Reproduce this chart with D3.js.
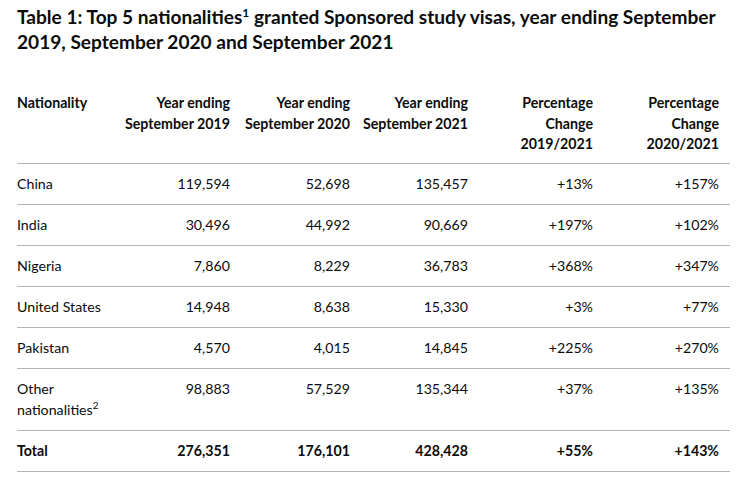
<!DOCTYPE html>
<html><head><meta charset="utf-8">
<script src="https://cdn.jsdelivr.net/npm/d3@7"></script>
<style>
html,body{margin:0;padding:0;background:#fff;}
svg text{font-family:Lato,"Noto Sans",Arial,sans-serif;fill:#0b0c0c;}
</style></head>
<body><svg id="c" width="740" height="491"></svg>
<script>
const titleLines = ["Table 1: Top 5 nationalities", "2019, September 2020 and September 2021"];
const headers = [["Nationality"],["Year ending","September 2019"],["Year ending","September 2020"],["Year ending","September 2021"],["Percentage","Change","2019/2021"],["Percentage","Change","2020/2021"]];
const nationalities = ["China","India","Nigeria","United States","Pakistan","Other nationalities","Total"];
const values2019 = [119594,30496,7860,14948,4570,98883,276351];
const values2020 = [52698,44992,8229,8638,4015,57529,176101];
const values2021 = [135457,90669,36783,15330,14845,135344,428428];
const change1921 = [13,197,368,3,225,37,55];
const change2021 = [157,102,347,77,270,135,143];

const svg = d3.select("#c");
const rule = "#b1b4b6";
const TS = 19.1, BS = 14.2;

// Title
const t1 = svg.append("text").attr("x",17).attr("y",24).attr("font-size",TS).attr("font-weight",700);
t1.append("tspan").text(titleLines[0]);
t1.append("tspan").attr("dy",-7).attr("font-size",12).text("1");
t1.append("tspan").attr("dy",7).text(" granted Sponsored study visas, year ending September");
svg.append("text").attr("x",17).attr("y",49).attr("font-size",TS).attr("font-weight",700).text(titleLines[1]);

// Columns: right edges (left edge for first)
const colX = d3.scaleOrdinal().domain(d3.range(6)).range([17,230,350,468,593,719]);
const anchor = i => i===0 ? "start" : "end";

// header
const lineH = 20.5;
headers.forEach((h,i)=>{
  h.forEach((s,j)=>{
    svg.append("text").attr("x",colX(i)).attr("y",108+j*lineH).attr("text-anchor",anchor(i))
      .attr("font-size",BS).attr("font-weight",700).text(s);
  });
});

// rows
const rowLines = nationalities.map(n => n==="Other nationalities" ? 2 : 1);
const rowH = rowLines.map(l => 41 + (l-1)*21);
const top0 = 163;
const rowTop = rowH.map((h,i)=> top0 + d3.sum(rowH.slice(0,i)));
const fmt = d3.format(",");
const pct = v => "+" + v + "%";

// rules
const rules = [top0].concat(rowTop.map((t,i)=>t+rowH[i]));
svg.selectAll("line.r").data(rules).enter().append("line")
  .attr("x1",17).attr("x2",730).attr("y1",d=>d+0.5).attr("y2",d=>d+0.5)
  .attr("stroke",rule).attr("stroke-width",1);

nationalities.forEach((n,r)=>{
  const bold = n==="Total";
  const y = rowTop[r] + 26;
  const cells = [n, fmt(values2019[r]), fmt(values2020[r]), fmt(values2021[r]), pct(change1921[r]), pct(change2021[r])];
  cells.forEach((c,i)=>{
    const txt = svg.append("text").attr("x",colX(i)).attr("y",y).attr("text-anchor",anchor(i))
      .attr("font-size",BS).attr("font-weight",bold?700:400);
    if(i===0 && n==="Other nationalities"){
      txt.text("Other");
      const t2 = svg.append("text").attr("x",colX(0)).attr("y",y+21).attr("font-size",BS);
      t2.append("tspan").text("nationalities");
      t2.append("tspan").attr("dy",-6).attr("font-size",10).text("2");
    } else txt.text(c);
  });
});
</script></body></html>
